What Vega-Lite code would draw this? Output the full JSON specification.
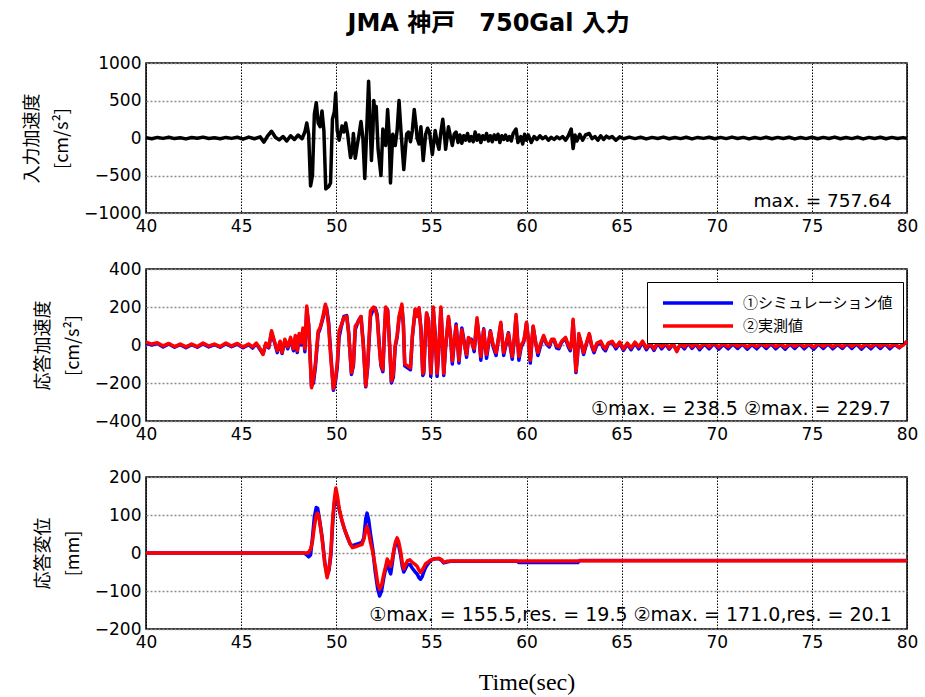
{
"$schema": "https://vega.github.io/schema/vega-lite/v6.json",
"padding": {"left": 22, "top": 12, "right": 5, "bottom": 0},
"title": {"text": "JMA 神戸　750Gal 入力", "font": "DejaVu Sans, Noto Sans CJK JP", "fontSize": 24, "fontWeight": "bold", "color": "black", "anchor": "middle", "offset": 17, "dx": 18},
"spacing": 24,
"datasets": {
"acc_in": [
{"t":40.0,"v":5},{"t":40.3,"v":-10},{"t":40.6,"v":8},{"t":40.9,"v":-5},{"t":41.2,"v":10},{"t":41.5,"v":-8},{"t":41.8,"v":4},{"t":42.1,"v":-12},{"t":42.4,"v":6},{"t":42.7,"v":-4},{"t":43.0,"v":12},{"t":43.3,"v":-6},{"t":43.6,"v":3},{"t":43.9,"v":-10},{"t":44.2,"v":8},{"t":44.5,"v":-5},{"t":44.8,"v":10},{"t":45.1,"v":-15},{"t":45.4,"v":12},{"t":45.7,"v":-10},{"t":46.0,"v":15},{"t":46.2,"v":-55},{"t":46.4,"v":30},{"t":46.6,"v":90},{"t":46.8,"v":10},{"t":47.0,"v":-25},{"t":47.2,"v":20},{"t":47.4,"v":-40},{"t":47.6,"v":30},{"t":47.8,"v":-20},{"t":48.0,"v":40},{"t":48.2,"v":-10},{"t":48.35,"v":80},{"t":48.45,"v":200},{"t":48.55,"v":50},{"t":48.65,"v":-640},{"t":48.75,"v":-500},{"t":48.85,"v":320},{"t":48.95,"v":470},{"t":49.05,"v":200},{"t":49.15,"v":150},{"t":49.25,"v":360},{"t":49.35,"v":100},{"t":49.45,"v":-680},{"t":49.6,"v":-650},{"t":49.7,"v":-600},{"t":49.8,"v":250},{"t":49.9,"v":350},{"t":49.97,"v":600},{"t":50.05,"v":100},{"t":50.15,"v":-30},{"t":50.3,"v":160},{"t":50.4,"v":80},{"t":50.5,"v":200},{"t":50.6,"v":50},{"t":50.75,"v":-260},{"t":50.85,"v":-150},{"t":50.9,"v":60},{"t":51.0,"v":-270},{"t":51.1,"v":-100},{"t":51.2,"v":50},{"t":51.3,"v":220},{"t":51.4,"v":0},{"t":51.5,"v":-540},{"t":51.6,"v":100},{"t":51.7,"v":757.64},{"t":51.78,"v":200},{"t":51.85,"v":-300},{"t":51.93,"v":100},{"t":51.97,"v":500},{"t":52.05,"v":300},{"t":52.1,"v":420},{"t":52.2,"v":-150},{"t":52.35,"v":-500},{"t":52.45,"v":120},{"t":52.55,"v":-50},{"t":52.6,"v":-100},{"t":52.7,"v":380},{"t":52.78,"v":50},{"t":52.85,"v":-600},{"t":52.97,"v":50},{"t":53.1,"v":-100},{"t":53.2,"v":100},{"t":53.3,"v":500},{"t":53.4,"v":100},{"t":53.55,"v":-420},{"t":53.65,"v":-100},{"t":53.7,"v":50},{"t":53.8,"v":80},{"t":53.9,"v":-50},{"t":54.0,"v":100},{"t":54.1,"v":380},{"t":54.2,"v":150},{"t":54.25,"v":0},{"t":54.35,"v":-80},{"t":54.45,"v":150},{"t":54.57,"v":-300},{"t":54.7,"v":50},{"t":54.8,"v":130},{"t":54.9,"v":80},{"t":55.05,"v":-220},{"t":55.2,"v":100},{"t":55.3,"v":-50},{"t":55.4,"v":-150},{"t":55.5,"v":80},{"t":55.6,"v":250},{"t":55.7,"v":0},{"t":55.75,"v":-150},{"t":55.85,"v":50},{"t":55.9,"v":150},{"t":56.0,"v":20},{"t":56.1,"v":-100},{"t":56.2,"v":50},{"t":56.3,"v":80},{"t":56.4,"v":-60},{"t":56.5,"v":40},{"t":56.6,"v":-70},{"t":56.7,"v":30},{"t":56.8,"v":-30},{"t":56.9,"v":60},{"t":57.0,"v":-40},{"t":57.1,"v":20},{"t":57.2,"v":-50},{"t":57.3,"v":80},{"t":57.4,"v":-30},{"t":57.5,"v":40},{"t":57.6,"v":-60},{"t":57.7,"v":30},{"t":57.8,"v":-20},{"t":57.9,"v":60},{"t":58.0,"v":-40},{"t":58.1,"v":30},{"t":58.2,"v":-50},{"t":58.3,"v":40},{"t":58.4,"v":-20},{"t":58.5,"v":50},{"t":58.6,"v":-60},{"t":58.7,"v":30},{"t":58.8,"v":-20},{"t":58.9,"v":40},{"t":59.0,"v":-30},{"t":59.1,"v":20},{"t":59.2,"v":-40},{"t":59.3,"v":60},{"t":59.45,"v":120},{"t":59.55,"v":-60},{"t":59.7,"v":20},{"t":59.8,"v":-80},{"t":59.9,"v":50},{"t":60.0,"v":-30},{"t":60.1,"v":40},{"t":60.25,"v":-60},{"t":60.4,"v":20},{"t":60.55,"v":-20},{"t":60.7,"v":30},{"t":60.85,"v":-10},{"t":61.0,"v":20},{"t":61.15,"v":-30},{"t":61.3,"v":10},{"t":61.45,"v":-20},{"t":61.6,"v":15},{"t":61.75,"v":-10},{"t":61.9,"v":20},{"t":62.05,"v":-30},{"t":62.2,"v":30},{"t":62.35,"v":120},{"t":62.45,"v":-140},{"t":62.55,"v":40},{"t":62.65,"v":-40},{"t":62.8,"v":50},{"t":62.95,"v":-30},{"t":63.1,"v":40},{"t":63.3,"v":60},{"t":63.45,"v":-10},{"t":63.6,"v":20},{"t":63.75,"v":-30},{"t":63.9,"v":30},{"t":64.05,"v":-20},{"t":64.2,"v":25},{"t":64.35,"v":0},{"t":64.5,"v":20},{"t":64.7,"v":-30},{"t":64.9,"v":15},{"t":65.1,"v":-10},{"t":65.4,"v":12},{"t":65.7,"v":-8},{"t":66.0,"v":10},{"t":66.3,"v":-12},{"t":66.6,"v":8},{"t":66.9,"v":-6},{"t":67.2,"v":12},{"t":67.5,"v":-10},{"t":67.8,"v":6},{"t":68.1,"v":-8},{"t":68.4,"v":10},{"t":68.7,"v":-12},{"t":69.0,"v":8},{"t":69.3,"v":-5},{"t":69.6,"v":10},{"t":69.9,"v":-10},{"t":70.2,"v":8},{"t":70.5,"v":-8},{"t":70.8,"v":12},{"t":71.1,"v":-6},{"t":71.4,"v":8},{"t":71.7,"v":-12},{"t":72.0,"v":6},{"t":72.3,"v":-8},{"t":72.6,"v":10},{"t":72.9,"v":-10},{"t":73.2,"v":8},{"t":73.5,"v":-6},{"t":73.8,"v":10},{"t":74.1,"v":-12},{"t":74.4,"v":6},{"t":74.7,"v":-8},{"t":75.0,"v":10},{"t":75.3,"v":-10},{"t":75.6,"v":8},{"t":75.9,"v":-6},{"t":76.2,"v":12},{"t":76.5,"v":-10},{"t":76.8,"v":6},{"t":77.1,"v":-8},{"t":77.4,"v":10},{"t":77.7,"v":-12},{"t":78.0,"v":8},{"t":78.3,"v":-6},{"t":78.6,"v":10},{"t":78.9,"v":-10},{"t":79.2,"v":8},{"t":79.5,"v":-6},{"t":79.8,"v":5},{"t":80.0,"v":-5}
],
"acc_resp": [
{"t":40.0,"obs":15,"sim":10},{"t":40.3,"obs":5,"sim":0},{"t":40.6,"obs":12,"sim":8},{"t":40.9,"obs":-5,"sim":-10},{"t":41.2,"obs":8,"sim":5},{"t":41.5,"obs":-8,"sim":-12},{"t":41.8,"obs":5,"sim":2},{"t":42.1,"obs":-10,"sim":-14},{"t":42.4,"obs":5,"sim":2},{"t":42.7,"obs":-8,"sim":-12},{"t":43.0,"obs":10,"sim":6},{"t":43.3,"obs":-5,"sim":-10},{"t":43.6,"obs":5,"sim":2},{"t":43.9,"obs":-8,"sim":-12},{"t":44.2,"obs":10,"sim":6},{"t":44.5,"obs":-5,"sim":-9},{"t":44.8,"obs":8,"sim":4},{"t":45.1,"obs":-10,"sim":-15},{"t":45.4,"obs":5,"sim":2},{"t":45.6,"obs":-10,"sim":-16},{"t":45.8,"obs":10,"sim":6},{"t":46.0,"obs":-20,"sim":-25},{"t":46.15,"obs":-50,"sim":-48},{"t":46.3,"obs":10,"sim":5},{"t":46.45,"obs":-10,"sim":-15},{"t":46.6,"obs":75,"sim":65},{"t":46.75,"obs":20,"sim":15},{"t":46.9,"obs":-30,"sim":-40},{"t":47.05,"obs":20,"sim":15},{"t":47.15,"obs":-40,"sim":-45},{"t":47.3,"obs":30,"sim":25},{"t":47.45,"obs":-10,"sim":-20},{"t":47.6,"obs":40,"sim":30},{"t":47.75,"obs":-20,"sim":-30},{"t":47.85,"obs":50,"sim":40},{"t":47.95,"obs":-30,"sim":-40},{"t":48.05,"obs":60,"sim":50},{"t":48.15,"obs":10,"sim":0},{"t":48.25,"obs":90,"sim":70},{"t":48.35,"obs":-20,"sim":-35},{"t":48.45,"obs":205,"sim":190},{"t":48.55,"obs":100,"sim":110},{"t":48.7,"obs":-225,"sim":-215},{"t":48.8,"obs":-180,"sim":-200},{"t":48.9,"obs":-100,"sim":-120},{"t":49.05,"obs":74,"sim":60},{"t":49.15,"obs":90,"sim":85},{"t":49.3,"obs":150,"sim":140},{"t":49.43,"obs":215,"sim":205},{"t":49.5,"obs":180,"sim":190},{"t":49.6,"obs":100,"sim":120},{"t":49.7,"obs":-50,"sim":-30},{"t":49.85,"obs":-229.7,"sim":-238.5},{"t":49.95,"obs":-180,"sim":-200},{"t":50.05,"obs":-100,"sim":-120},{"t":50.15,"obs":74,"sim":40},{"t":50.25,"obs":100,"sim":90},{"t":50.4,"obs":145,"sim":150},{"t":50.55,"obs":150,"sim":155},{"t":50.65,"obs":60,"sim":70},{"t":50.8,"obs":-145,"sim":-155},{"t":50.9,"obs":-100,"sim":-110},{"t":51.0,"obs":100,"sim":80},{"t":51.15,"obs":120,"sim":125},{"t":51.3,"obs":150,"sim":150},{"t":51.42,"obs":0,"sim":10},{"t":51.55,"obs":-215,"sim":-220},{"t":51.65,"obs":-100,"sim":-120},{"t":51.8,"obs":180,"sim":150},{"t":51.97,"obs":200,"sim":195},{"t":52.05,"obs":190,"sim":195},{"t":52.15,"obs":150,"sim":160},{"t":52.25,"obs":0,"sim":20},{"t":52.35,"obs":-100,"sim":-110},{"t":52.45,"obs":-130,"sim":-140},{"t":52.52,"obs":50,"sim":30},{"t":52.6,"obs":200,"sim":195},{"t":52.7,"obs":180,"sim":185},{"t":52.8,"obs":0,"sim":10},{"t":52.9,"obs":-190,"sim":-200},{"t":53.0,"obs":-150,"sim":-170},{"t":53.1,"obs":0,"sim":-10},{"t":53.2,"obs":50,"sim":40},{"t":53.3,"obs":150,"sim":140},{"t":53.45,"obs":215,"sim":200},{"t":53.53,"obs":100,"sim":110},{"t":53.6,"obs":-100,"sim":-110},{"t":53.75,"obs":-110,"sim":-120},{"t":53.9,"obs":-120,"sim":-130},{"t":54.0,"obs":50,"sim":40},{"t":54.15,"obs":190,"sim":185},{"t":54.25,"obs":150,"sim":160},{"t":54.35,"obs":196,"sim":190},{"t":54.45,"obs":80,"sim":90},{"t":54.55,"obs":-150,"sim":-160},{"t":54.6,"obs":-137,"sim":-150},{"t":54.68,"obs":50,"sim":40},{"t":54.75,"obs":170,"sim":165},{"t":54.85,"obs":126,"sim":130},{"t":54.97,"obs":-150,"sim":-165},{"t":55.05,"obs":0,"sim":-10},{"t":55.1,"obs":200,"sim":185},{"t":55.2,"obs":50,"sim":60},{"t":55.3,"obs":-150,"sim":-165},{"t":55.4,"obs":0,"sim":-10},{"t":55.5,"obs":200,"sim":190},{"t":55.57,"obs":50,"sim":60},{"t":55.65,"obs":-150,"sim":-160},{"t":55.75,"obs":0,"sim":-10},{"t":55.9,"obs":150,"sim":140},{"t":56.0,"obs":50,"sim":60},{"t":56.1,"obs":-84,"sim":-100},{"t":56.2,"obs":20,"sim":10},{"t":56.3,"obs":100,"sim":110},{"t":56.38,"obs":0,"sim":10},{"t":56.45,"obs":-80,"sim":-95},{"t":56.52,"obs":0,"sim":-5},{"t":56.6,"obs":80,"sim":90},{"t":56.72,"obs":10,"sim":20},{"t":56.85,"obs":-50,"sim":-65},{"t":56.95,"obs":40,"sim":30},{"t":57.1,"obs":20,"sim":30},{"t":57.25,"obs":-20,"sim":-35},{"t":57.4,"obs":144,"sim":130},{"t":57.5,"obs":40,"sim":50},{"t":57.6,"obs":-60,"sim":-80},{"t":57.68,"obs":20,"sim":10},{"t":57.75,"obs":80,"sim":85},{"t":57.82,"obs":0,"sim":10},{"t":57.9,"obs":-50,"sim":-70},{"t":58.0,"obs":10,"sim":0},{"t":58.1,"obs":70,"sim":75},{"t":58.25,"obs":0,"sim":-10},{"t":58.4,"obs":-40,"sim":-55},{"t":58.5,"obs":20,"sim":15},{"t":58.65,"obs":120,"sim":110},{"t":58.72,"obs":30,"sim":40},{"t":58.8,"obs":-40,"sim":-55},{"t":58.92,"obs":10,"sim":0},{"t":59.05,"obs":60,"sim":65},{"t":59.15,"obs":0,"sim":-10},{"t":59.25,"obs":-60,"sim":-75},{"t":59.35,"obs":30,"sim":20},{"t":59.45,"obs":160,"sim":150},{"t":59.52,"obs":40,"sim":50},{"t":59.6,"obs":-60,"sim":-80},{"t":59.72,"obs":0,"sim":-10},{"t":59.85,"obs":20,"sim":15},{"t":59.92,"obs":60,"sim":50},{"t":60.0,"obs":120,"sim":115},{"t":60.1,"obs":20,"sim":30},{"t":60.2,"obs":-80,"sim":-95},{"t":60.28,"obs":20,"sim":10},{"t":60.35,"obs":100,"sim":95},{"t":60.48,"obs":10,"sim":15},{"t":60.6,"obs":-40,"sim":-55},{"t":60.75,"obs":10,"sim":0},{"t":60.9,"obs":50,"sim":45},{"t":61.05,"obs":10,"sim":5},{"t":61.2,"obs":0,"sim":-10},{"t":61.32,"obs":30,"sim":25},{"t":61.45,"obs":30,"sim":25},{"t":61.58,"obs":-5,"sim":-15},{"t":61.7,"obs":-10,"sim":-20},{"t":61.85,"obs":20,"sim":15},{"t":62.05,"obs":40,"sim":35},{"t":62.2,"obs":0,"sim":-10},{"t":62.3,"obs":-20,"sim":-30},{"t":62.38,"obs":30,"sim":20},{"t":62.45,"obs":136,"sim":125},{"t":62.52,"obs":0,"sim":10},{"t":62.6,"obs":-137,"sim":-145},{"t":62.68,"obs":-50,"sim":-60},{"t":62.75,"obs":60,"sim":50},{"t":62.88,"obs":10,"sim":5},{"t":63.0,"obs":-40,"sim":-50},{"t":63.15,"obs":10,"sim":5},{"t":63.3,"obs":60,"sim":55},{"t":63.42,"obs":0,"sim":-5},{"t":63.55,"obs":-30,"sim":-40},{"t":63.7,"obs":10,"sim":0},{"t":63.9,"obs":20,"sim":15},{"t":64.05,"obs":-10,"sim":-20},{"t":64.15,"obs":-20,"sim":-30},{"t":64.3,"obs":10,"sim":5},{"t":64.5,"obs":20,"sim":15},{"t":64.7,"obs":-10,"sim":-20},{"t":64.9,"obs":15,"sim":10},{"t":65.1,"obs":-20,"sim":-28},{"t":65.3,"obs":10,"sim":5},{"t":65.5,"obs":-15,"sim":-25},{"t":65.7,"obs":15,"sim":10},{"t":65.9,"obs":-10,"sim":-20},{"t":66.1,"obs":20,"sim":15},{"t":66.3,"obs":-15,"sim":-25},{"t":66.5,"obs":10,"sim":5},{"t":66.7,"obs":-20,"sim":-28},{"t":66.9,"obs":15,"sim":10},{"t":67.1,"obs":-10,"sim":-20},{"t":67.3,"obs":10,"sim":5},{"t":67.5,"obs":-15,"sim":-22},{"t":67.7,"obs":10,"sim":5},{"t":67.9,"obs":-35,"sim":-30},{"t":68.1,"obs":10,"sim":5},{"t":68.3,"obs":-10,"sim":-20},{"t":68.5,"obs":15,"sim":10},{"t":68.7,"obs":-10,"sim":-18},{"t":68.9,"obs":10,"sim":5},{"t":69.1,"obs":-15,"sim":-25},{"t":69.35,"obs":10,"sim":5},{"t":69.6,"obs":-10,"sim":-20},{"t":69.85,"obs":12,"sim":8},{"t":70.1,"obs":-12,"sim":-22},{"t":70.35,"obs":8,"sim":3},{"t":70.6,"obs":-10,"sim":-20},{"t":70.85,"obs":10,"sim":5},{"t":71.1,"obs":-8,"sim":-18},{"t":71.35,"obs":10,"sim":5},{"t":71.6,"obs":-12,"sim":-22},{"t":71.85,"obs":8,"sim":3},{"t":72.1,"obs":-10,"sim":-20},{"t":72.35,"obs":10,"sim":6},{"t":72.6,"obs":-8,"sim":-18},{"t":72.85,"obs":12,"sim":8},{"t":73.1,"obs":-10,"sim":-20},{"t":73.35,"obs":8,"sim":3},{"t":73.6,"obs":-12,"sim":-22},{"t":73.85,"obs":10,"sim":5},{"t":74.1,"obs":-8,"sim":-18},{"t":74.35,"obs":10,"sim":6},{"t":74.6,"obs":-10,"sim":-20},{"t":74.85,"obs":8,"sim":4},{"t":75.1,"obs":-12,"sim":-22},{"t":75.35,"obs":10,"sim":5},{"t":75.6,"obs":-8,"sim":-18},{"t":75.85,"obs":10,"sim":6},{"t":76.1,"obs":-10,"sim":-20},{"t":76.35,"obs":8,"sim":3},{"t":76.6,"obs":-10,"sim":-18},{"t":76.85,"obs":12,"sim":8},{"t":77.1,"obs":-8,"sim":-18},{"t":77.35,"obs":10,"sim":5},{"t":77.6,"obs":-12,"sim":-22},{"t":77.85,"obs":8,"sim":3},{"t":78.1,"obs":-10,"sim":-20},{"t":78.35,"obs":10,"sim":5},{"t":78.6,"obs":-8,"sim":-18},{"t":78.85,"obs":10,"sim":6},{"t":79.1,"obs":-10,"sim":-20},{"t":79.35,"obs":8,"sim":3},{"t":79.6,"obs":-12,"sim":-15},{"t":79.8,"obs":0,"sim":5},{"t":80.0,"obs":20,"sim":15}
],
"disp": [
{"t":40.0,"sim":0,"obs":0},{"t":48.3,"sim":0,"obs":0},{"t":48.45,"sim":-5,"obs":0},{"t":48.55,"sim":-10,"obs":2},{"t":48.65,"sim":-5,"obs":10},{"t":48.75,"sim":40,"obs":30},{"t":48.85,"sim":95,"obs":70},{"t":48.95,"sim":120,"obs":100},{"t":49.02,"sim":118,"obs":105},{"t":49.1,"sim":95,"obs":92},{"t":49.25,"sim":45,"obs":40},{"t":49.4,"sim":-25,"obs":-30},{"t":49.52,"sim":-60,"obs":-65},{"t":49.62,"sim":-45,"obs":-40},{"t":49.72,"sim":-5,"obs":5},{"t":49.82,"sim":85,"obs":95},{"t":49.9,"sim":130,"obs":140},{"t":49.98,"sim":155.5,"obs":171},{"t":50.06,"sim":140,"obs":150},{"t":50.15,"sim":115,"obs":118},{"t":50.3,"sim":85,"obs":85},{"t":50.45,"sim":60,"obs":60},{"t":50.58,"sim":42,"obs":44},{"t":50.72,"sim":25,"obs":25},{"t":50.85,"sim":18,"obs":14},{"t":51.0,"sim":22,"obs":16},{"t":51.2,"sim":25,"obs":20},{"t":51.35,"sim":28,"obs":22},{"t":51.45,"sim":40,"obs":36},{"t":51.55,"sim":90,"obs":60},{"t":51.62,"sim":105,"obs":70},{"t":51.7,"sim":88,"obs":55},{"t":51.8,"sim":50,"obs":28},{"t":51.92,"sim":10,"obs":2},{"t":52.05,"sim":-50,"obs":-35},{"t":52.18,"sim":-95,"obs":-80},{"t":52.28,"sim":-113,"obs":-95},{"t":52.38,"sim":-100,"obs":-85},{"t":52.5,"sim":-65,"obs":-55},{"t":52.6,"sim":-40,"obs":-35},{"t":52.68,"sim":-25,"obs":-16},{"t":52.78,"sim":-45,"obs":-25},{"t":52.86,"sim":-55,"obs":-35},{"t":52.95,"sim":-25,"obs":-15},{"t":53.03,"sim":5,"obs":10},{"t":53.12,"sim":25,"obs":30},{"t":53.2,"sim":30,"obs":40},{"t":53.28,"sim":20,"obs":30},{"t":53.38,"sim":-5,"obs":5},{"t":53.47,"sim":-35,"obs":-25},{"t":53.55,"sim":-50,"obs":-42},{"t":53.65,"sim":-40,"obs":-30},{"t":53.75,"sim":-30,"obs":-20},{"t":53.87,"sim":-30,"obs":-18},{"t":54.0,"sim":-40,"obs":-25},{"t":54.15,"sim":-50,"obs":-30},{"t":54.25,"sim":-55,"obs":-35},{"t":54.35,"sim":-65,"obs":-45},{"t":54.43,"sim":-69,"obs":-51},{"t":54.52,"sim":-62,"obs":-45},{"t":54.6,"sim":-50,"obs":-38},{"t":54.7,"sim":-38,"obs":-28},{"t":54.8,"sim":-30,"obs":-25},{"t":54.92,"sim":-22,"obs":-20},{"t":55.05,"sim":-17,"obs":-17},{"t":55.2,"sim":-15,"obs":-15},{"t":55.4,"sim":-15,"obs":-14},{"t":55.55,"sim":-20,"obs":-18},{"t":55.65,"sim":-26,"obs":-24},{"t":55.8,"sim":-24,"obs":-22},{"t":56.0,"sim":-22,"obs":-21},{"t":59.5,"sim":-22,"obs":-21},{"t":59.6,"sim":-25,"obs":-21},{"t":62.7,"sim":-25,"obs":-21},{"t":62.8,"sim":-19.5,"obs":-20.5},{"t":80.0,"sim":-19.5,"obs":-20.1}
]
},
"vconcat": [
{
"width": 761, "height": 150,
"data": {"name": "acc_in"},
"layer": [
{"mark": {"type": "line", "color": "black", "strokeWidth": 3.5, "strokeJoin": "round"},
 "encoding": {
  "x": {"field": "t", "type": "quantitative", "scale": {"domain": [40, 80], "nice": false}, "axis": {"values": [40,45,50,55,60,65,70,75,80], "title": null}},
  "y": {"field": "v", "type": "quantitative", "scale": {"domain": [-1000, 1000], "nice": false}, "axis": {"values": [-1000,-500,0,500,1000], "format": "d", "title": ["入力加速度", "[cm/s²]"]}}
 }},
{"data": {"values": [{}]},
 "mark": {"type": "text", "align": "right", "baseline": "middle", "font": "DejaVu Sans", "fontSize": 18.5, "color": "black"},
 "encoding": {
  "x": {"datum": 79.2, "type": "quantitative", "axis": {"values": [40,45,50,55,60,65,70,75,80], "title": null}},
  "y": {"datum": -840, "type": "quantitative", "axis": {"values": [-1000,-500,0,500,1000], "format": "d", "title": ["入力加速度", "[cm/s²]"]}},
  "text": {"value": "max. = 757.64"}}}
]
},
{
"width": 761, "height": 152,
"data": {"name": "acc_resp"},
"layer": [
{"mark": {"type": "line", "strokeWidth": 3.5, "strokeJoin": "round"},
 "encoding": {
  "x": {"field": "t", "type": "quantitative", "scale": {"domain": [40, 80], "nice": false}, "axis": {"values": [40,45,50,55,60,65,70,75,80], "title": null}},
  "y": {"field": "sim", "type": "quantitative", "scale": {"domain": [-400, 400], "nice": false}, "axis": {"values": [-400,-200,0,200,400], "format": "d", "title": ["応答加速度", "[cm/s²]"]}},
  "color": {"datum": "①シミュレーション値", "type": "nominal", "scale": {"domain": ["①シミュレーション値", "②実測値"], "range": ["#0000ff", "#ff0000"]},
   "legend": {"title": null, "orient": "none", "legendX": 501, "legendY": 219, "symbolType": "M-0.5,0H6.5", "symbolSize": 400, "symbolStrokeWidth": 3.5, "symbolFillColor": "transparent", "labelOffset": 63, "labelFont": "Noto Sans CJK JP", "labelFontSize": 15, "labelColor": "black", "strokeColor": "black", "fillColor": "white", "padding": 9, "rowPadding": 3, "labelLimit": 300}}
 }},
{"mark": {"type": "line", "strokeWidth": 3.5, "strokeJoin": "round"},
 "encoding": {
  "x": {"field": "t", "type": "quantitative", "axis": {"values": [40,45,50,55,60,65,70,75,80], "title": null}},
  "y": {"field": "obs", "type": "quantitative", "axis": {"values": [-400,-200,0,200,400], "format": "d", "title": ["応答加速度", "[cm/s²]"]}},
  "color": {"datum": "②実測値", "type": "nominal"}
 }},
{"data": {"values": [{}]},
 "mark": {"type": "text", "align": "right", "baseline": "middle", "font": "DejaVu Sans, Noto Sans CJK JP", "fontSize": 19, "color": "black"},
 "encoding": {
  "x": {"datum": 79.15, "type": "quantitative", "axis": {"values": [40,45,50,55,60,65,70,75,80], "title": null}},
  "y": {"datum": -337, "type": "quantitative", "axis": {"values": [-400,-200,0,200,400], "format": "d", "title": ["応答加速度", "[cm/s²]"]}},
  "text": {"value": "①max. = 238.5 ②max. = 229.7"}}}
]
},
{
"width": 761, "height": 152,
"data": {"name": "disp"},
"layer": [
{"mark": {"type": "line", "color": "#0000ff", "strokeWidth": 3.5, "strokeJoin": "round"},
 "encoding": {
  "x": {"field": "t", "type": "quantitative", "scale": {"domain": [40, 80], "nice": false}, "axis": {"values": [40,45,50,55,60,65,70,75,80], "title": "Time(sec)", "titleFont": "Liberation Serif", "titleFontSize": 24, "titlePadding": 20}},
  "y": {"field": "sim", "type": "quantitative", "scale": {"domain": [-200, 200], "nice": false}, "axis": {"values": [-200,-100,0,100,200], "format": "d", "title": ["応答変位", "[mm]"]}}
 }},
{"mark": {"type": "line", "color": "#ff0000", "strokeWidth": 3.5, "strokeJoin": "round"},
 "encoding": {
  "x": {"field": "t", "type": "quantitative", "axis": {"values": [40,45,50,55,60,65,70,75,80], "title": "Time(sec)", "titleFont": "Liberation Serif", "titleFontSize": 24, "titlePadding": 20}},
  "y": {"field": "obs", "type": "quantitative", "axis": {"values": [-200,-100,0,100,200], "format": "d", "title": ["応答変位", "[mm]"]}}
 }},
{"data": {"values": [{}]},
 "mark": {"type": "text", "align": "right", "baseline": "middle", "font": "DejaVu Sans, Noto Sans CJK JP", "fontSize": 19, "color": "black"},
 "encoding": {
  "x": {"datum": 79.2, "type": "quantitative", "axis": {"values": [40,45,50,55,60,65,70,75,80], "title": "Time(sec)", "titleFont": "Liberation Serif", "titleFontSize": 24, "titlePadding": 20}},
  "y": {"datum": -163, "type": "quantitative", "axis": {"values": [-200,-100,0,100,200], "format": "d", "title": ["応答変位", "[mm]"]}},
  "text": {"value": "①max. = 155.5,res. = 19.5 ②max. = 171.0,res. = 20.1"}}}
]
}
],
"config": {
 "view": {"stroke": "black", "strokeWidth": 1.5},
 "axis": {"domain": false, "ticks": false, "labelFont": "DejaVu Sans", "labelFontSize": 17, "labelColor": "black", "labelPadding": 5, "titleFont": "Noto Sans CJK JP", "titleFontSize": 18, "titleFontWeight": "normal", "titleColor": "black", "gridOpacity": 1, "labelFlush": false, "labelOverlap": false},
 "axisX": {"gridColor": "black", "gridDash": [1.5, 1.5], "gridWidth": 1},
 "axisY": {"gridColor": "#8c8c8c", "gridDash": [2, 2], "gridWidth": 1.5, "titleLineHeight": 30, "titlePadding": 12}
}
}
